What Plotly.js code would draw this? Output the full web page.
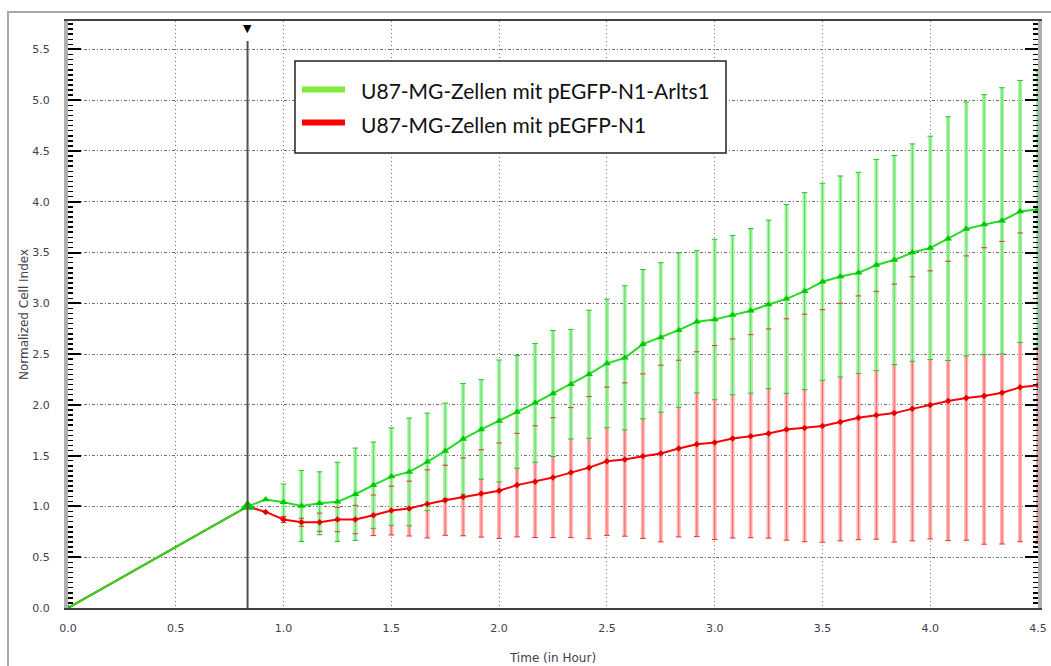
<!DOCTYPE html>
<html>
<head>
<meta charset="utf-8">
<script src="https://cdn.plot.ly/plotly-3.0.1.min.js"></script>
<style>
  html, body { margin: 0; padding: 0; background: #ffffff; }
  #chart { width: 1051px; height: 666px; }
</style>
</head>
<body>
<div id="chart"></div>
<script>
// ---- data ----
const time = [0, 0.833, 0.917, 1.0, 1.083, 1.167, 1.25, 1.333, 1.417, 1.5, 1.583,
  1.667, 1.75, 1.833, 1.917, 2.0, 2.083, 2.167, 2.25, 2.333, 2.417,
  2.5, 2.583, 2.667, 2.75, 2.833, 2.917, 3.0, 3.083, 3.167, 3.25,
  3.333, 3.417, 3.5, 3.583, 3.667, 3.75, 3.833, 3.917, 4.0, 4.083,
  4.167, 4.25, 4.333, 4.417, 4.5];

const arltsMean = [0, 1.0, 1.068, 1.041, 1.005, 1.031, 1.045, 1.12, 1.209, 1.294, 1.34,
  1.439, 1.547, 1.665, 1.758, 1.842, 1.931, 2.02, 2.112, 2.204, 2.302,
  2.408, 2.463, 2.598, 2.664, 2.736, 2.818, 2.841, 2.884, 2.926, 2.989,
  3.044, 3.12, 3.212, 3.264, 3.3, 3.377, 3.426, 3.5, 3.546, 3.637,
  3.732, 3.775, 3.813, 3.905, 3.926];

const arltsErr = [0, 0, 0, 0.18, 0.35, 0.31, 0.39, 0.455, 0.425, 0.48, 0.53,
  0.48, 0.47, 0.545, 0.49, 0.6, 0.555, 0.585, 0.62, 0.54, 0.63,
  0.633, 0.71, 0.735, 0.736, 0.76, 0.70, 0.79, 0.785, 0.81, 0.83,
  0.93, 0.97, 0.97, 0.99, 0.99, 1.04, 1.03, 1.07, 1.1, 1.2,
  1.25, 1.28, 1.31, 1.29, 1.36];

const controlMean = [0, 1.0, 0.946, 0.871, 0.844, 0.844, 0.871, 0.871, 0.913, 0.959, 0.979,
  1.025, 1.061, 1.094, 1.128, 1.155, 1.21, 1.244, 1.284, 1.333, 1.382,
  1.445, 1.462, 1.495, 1.521, 1.57, 1.613, 1.629, 1.669, 1.692, 1.718,
  1.758, 1.773, 1.793, 1.831, 1.873, 1.898, 1.919, 1.961, 2.0, 2.039,
  2.067, 2.088, 2.12, 2.173, 2.194];

const controlErr = [0, 0, 0, 0.03, 0.04, 0.09, 0.12, 0.14, 0.2, 0.24, 0.27,
  0.335, 0.345, 0.383, 0.43, 0.47, 0.51, 0.55, 0.59, 0.64, 0.70,
  0.73, 0.755, 0.81, 0.87, 0.87, 0.91, 0.955, 0.98, 1.0, 1.03,
  1.09, 1.12, 1.145, 1.17, 1.2, 1.22, 1.27, 1.3, 1.32, 1.375,
  1.4, 1.46, 1.49, 1.52, 1.56];

const seriesNames = ["U87-MG-Zellen mit pEGFP-N1-Arlts1", "U87-MG-Zellen mit pEGFP-N1"];
const normIndex = 1; // index of the normalization time point

// ---- styling ----
const GREEN_LINE = '#22dd22', GREEN_MARK = '#00c800';
const RED_LINE = '#ff0000', RED_MARK = '#e00000';

function caps(mean, err, sign) {
  return mean.map((m, i) => err[i] > 0 ? m + sign * err[i] : null);
}
function barTrace(mean, err, color, thick) {
  return {
    x: time, y: mean, type: 'scatter', mode: 'markers',
    marker: {size: 1, opacity: 0}, hoverinfo: 'skip', showlegend: false,
    error_y: {type: 'data', array: err, visible: true, color: color, thickness: thick, width: 0}
  };
}
function capTrace(vals, color) {
  return {
    x: time, y: vals, type: 'scatter', mode: 'markers', hoverinfo: 'skip', showlegend: false,
    marker: {symbol: 'line-ew', size: 4, color: color, line: {width: 1, color: color}}
  };
}

const traces = [
  barTrace(controlMean, controlErr, '#ffb4b4', 4),
  barTrace(controlMean, controlErr, '#ff6464', 1),
  barTrace(arltsMean, arltsErr, '#a8f2a8', 4),
  barTrace(arltsMean, arltsErr, '#5ade5a', 1),
  capTrace(caps(controlMean, controlErr, 1), '#e83030'),
  capTrace(caps(controlMean, controlErr, -1), '#e83030'),
  capTrace(caps(arltsMean, arltsErr, 1), '#28c028'),
  capTrace(caps(arltsMean, arltsErr, -1), '#28c028'),
  {
    x: time, y: controlMean, type: 'scatter', mode: 'lines+markers', name: seriesNames[1],
    line: {color: RED_LINE, width: 2}, marker: {symbol: 'diamond', size: 5, color: RED_MARK},
    showlegend: false
  },
  {
    x: time, y: arltsMean, type: 'scatter', mode: 'lines+markers', name: seriesNames[0],
    line: {color: GREEN_LINE, width: 2}, marker: {symbol: 'triangle-up', size: 7, color: GREEN_MARK},
    showlegend: false
  },
  {
    x: [time[normIndex]], y: [arltsMean[normIndex]], type: 'scatter', mode: 'markers',
    marker: {symbol: 'triangle-up', size: 13, color: GREEN_MARK}, showlegend: false, hoverinfo: 'skip'
  }
];

// plot area in pixels: left 68, right 1038, top 21, bottom 608
const L = 68, R = 1038, T = 21, B = 608;
const px = v => (v - L) / (R - L);
const py = v => 1 - (v - T) / (B - T);

const tickFont = {family: 'DejaVu Sans', size: 11, color: '#404050'};
const legendFont = {family: 'Lato', size: 21, color: '#111111'};

const layout = {
  width: 1051, height: 666,
  margin: {l: L, r: 1051 - R, t: T, b: 666 - B, pad: 0},
  paper_bgcolor: '#ffffff', plot_bgcolor: '#ffffff',
  showlegend: false,
  xaxis: {
    range: [0, 4.5], dtick: 0.5, tick0: 0, tickformat: '.1f',
    showgrid: true, gridcolor: '#707070', gridwidth: 1, griddash: '1px,3px',
    zeroline: false, showline: true, linecolor: '#404040', linewidth: 2, mirror: true,
    ticks: '', tickfont: tickFont, ticklabelstandoff: 9,
    title: {text: 'Time (in Hour)', font: {family: 'DejaVu Sans', size: 12, color: '#404050'}, standoff: 19}
  },
  yaxis: {
    range: [0, 5.78], dtick: 0.5, tick0: 0, tickformat: '.1f',
    showgrid: true, gridcolor: '#707070', gridwidth: 1, griddash: '3px,2px,1px,2px',
    zeroline: false, showline: true, linecolor: '#b0b0b0', linewidth: 4, mirror: 'ticks',
    ticks: 'inside', ticklen: 13, tickwidth: 2, tickcolor: '#000000',
    minor: {dtick: 0.05, ticks: 'inside', ticklen: 5, tickwidth: 1.5, tickcolor: '#000000', showgrid: false},
    tickfont: tickFont, ticklabelstandoff: 12,
    title: {text: 'Normalized Cell Index', font: {family: 'DejaVu Sans', size: 12, color: '#404050'}, standoff: 2}
  },
  yaxis2: {
    overlaying: 'y', side: 'left', range: [0, 5.78], tick0: 0.25, dtick: 0.5,
    showgrid: false, zeroline: false, showticklabels: false,
    showline: true, linecolor: '#b0b0b0', linewidth: 4, mirror: 'ticks',
    ticks: 'inside', ticklen: 9, tickwidth: 1.5, tickcolor: '#000000'
  },
  shapes: [
    // outer frame
    {type: 'rect', xref: 'paper', yref: 'paper', x0: px(8), x1: px(1070), y0: py(690), y1: py(12),
     line: {color: '#a8a8a8', width: 2}, fillcolor: 'rgba(0,0,0,0)', layer: 'below'},
    // normalization marker line
    {type: 'line', xref: 'x', yref: 'paper', x0: time[normIndex], x1: time[normIndex], y0: 0, y1: py(41),
     line: {color: '#505050', width: 2}},
    // legend box
    {type: 'rect', xref: 'paper', yref: 'paper', x0: px(295), x1: px(726), y0: py(153), y1: py(61),
     line: {color: '#222222', width: 1.5}, fillcolor: '#ffffff'},
    {type: 'line', xref: 'paper', yref: 'paper', x0: px(302), x1: px(345), y0: py(89.5), y1: py(89.5),
     line: {color: '#7eea3c', width: 6}},
    {type: 'line', xref: 'paper', yref: 'paper', x0: px(302), x1: px(345), y0: py(122.5), y1: py(122.5),
     line: {color: '#ff0000', width: 6}}
  ],
  annotations: [
    {xref: 'paper', yref: 'paper', x: px(359), y: py(90.5), xanchor: 'left', yanchor: 'middle',
     text: seriesNames[0], showarrow: false, font: legendFont},
    {xref: 'paper', yref: 'paper', x: px(359), y: py(124.5), xanchor: 'left', yanchor: 'middle',
     text: seriesNames[1], showarrow: false, font: legendFont},
    {xref: 'x', yref: 'paper', x: time[normIndex], y: py(20), xanchor: 'center', yanchor: 'top',
     text: '\u25BC', showarrow: false, font: {family: 'DejaVu Sans', size: 11, color: '#000000'}}
  ]
};

Plotly.newPlot('chart', traces, layout, {displayModeBar: false, staticPlot: true});
</script>
</body>
</html>
